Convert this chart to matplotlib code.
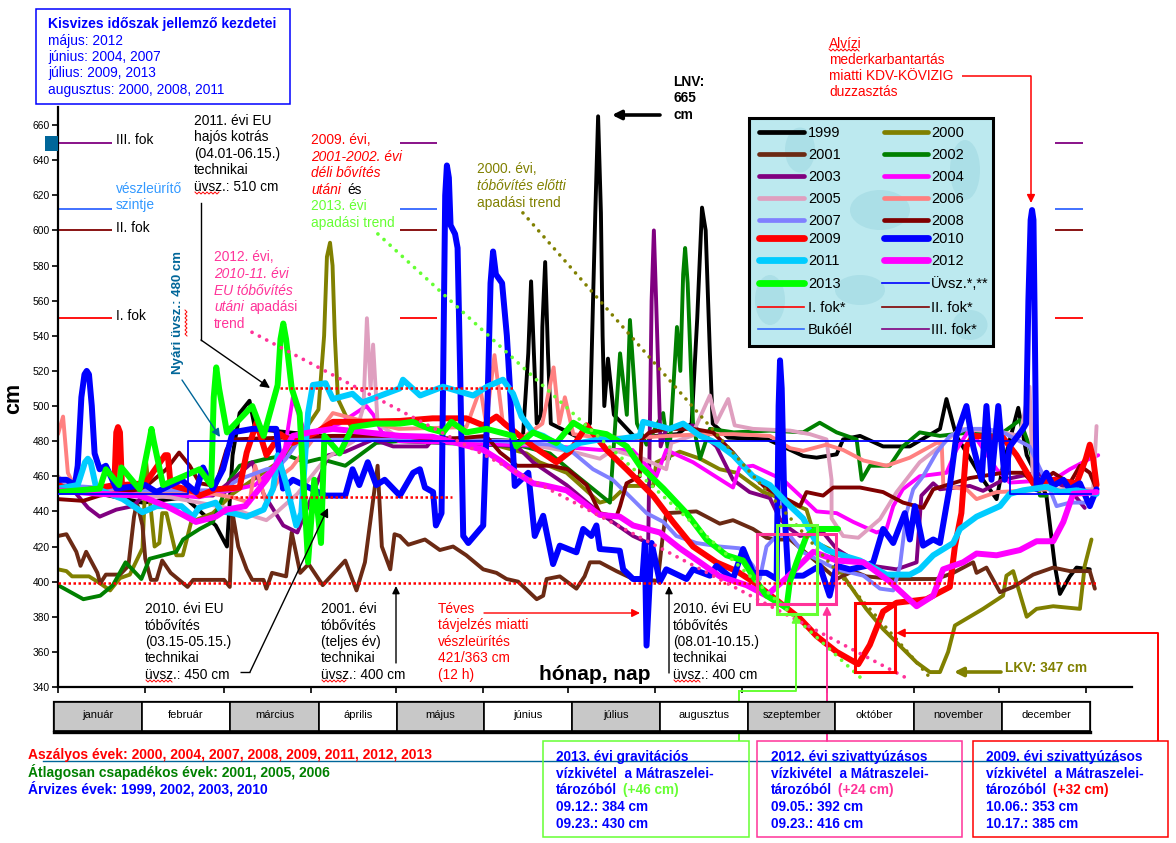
import matplotlib
matplotlib.use("Agg")
import matplotlib.pyplot as plt
from matplotlib.patches import Rectangle, Ellipse

plt.rcParams['font.family'] = ['Liberation Sans', 'DejaVu Sans']

# (day of year, water level cm)
s1999 = [(0,455),(30,445),(45,448),(56,432),(60,420),(62,472),(64.5,496),(68,503),(70,487),(100,482),(130,482),(165,480),(167,530),(168,571),(169,530),(170,490),(171.5,495),(172,545),(173,582),(174,530),(175,490),(185,482),(188.9,490),(190,560),(190.8,610),(191.8,665),(192.8,610),(193.4,540),(194,500),(195.3,527),(197.4,495),(205,482),(220,484),(225,490),(227,550),(228.7,613),(230,600),(231.5,530),(232.5,490),(238,482),(252,481),(264.6,471.6),(269.4,470.6),(276.5,472.5),(278.8,481),(284.8,483),(293,477),(302.5,477),(313.2,487),(315.5,504),(319,483),(328.5,458),(333.3,447),(335.6,466),(341,499),(344,472),(351,449),(354,409),(355.8,393),(359.3,403),(361.7,408),(366.4,407)]
s2000 = [(0,407),(3,406),(5,403),(11,403),(15,399),(18.5,395),(22,402),(25.5,404),(30,419),(31.3,468),(34.3,420),(36,422),(37,439),(38.5,439),(42,415),(44.3,415),(47.3,434),(55,439),(62,450),(80,470),(85,480),(92.5,498),(94.5,540),(95.5,585),(96.6,593),(97.5,580),(98.3,540),(99.4,504),(105,485),(150,480),(166.4,473),(171,468),(180.6,462),(192.4,445),(197,447),(201.9,454.5),(211.3,454.5),(212.5,468),(220.8,474),(228,470),(235,464),(241,462),(250.4,451),(254,449),(265.8,441),(269.4,422),(274,418.6),(278.8,403.4),(287,384.5),(293,373),(304.9,354),(309.6,348.5),(313.2,348.5),(316.1,360),(318.5,375),(328.5,384.5),(335.6,392),(336.8,403.4),(339.2,406),(344,380),(347.5,384.5),(353.4,386),(362.9,384.5),(364.6,409),(367,424)]
s2001 = [(0,426),(3,427),(6.5,417),(8,409),(10,417),(14,405),(15,399),(17,404),(22,404),(25,409),(27,437),(28,445),(30,432),(31,413),(33,401),(35,401),(37,412),(40,405),(46,397),(48,401),(55,401),(59,401),(61,397),(62,439),(64,420),(67,407),(69,401),(73,401),(74,396),(76,405),(81,403),(83,428),(86,405),(89,410),(94,398),(102,412),(106,395),(109,411),(113.5,466),(115,420),(118,407),(119.5,427),(121.4,426),(124.4,421),(130.3,424),(135.6,418),(140.3,420),(145,415),(151,407),(155.7,405),(159.3,401.5),(163.4,400),(170,390),(172.3,392),(173.5,401.5),(178.2,403),(184.1,396),(187,403),(188.9,411),(192.4,411),(198.3,406),(204.2,401.5),(213,400.5),(214.9,428),(216,439),(226.7,440),(235,433),(239.7,435),(246.8,430),(251.6,425),(255,424),(260,424),(276.5,401.5),(282.4,406),(287,403),(296.6,401.5),(312,401.5),(317.9,405),(325,411),(326.2,405),(329.7,408),(334.5,394),(339.2,397),(346.3,404),(353.4,408),(359.3,406),(366.4,406),(368.2,396)]
s2002 = [(0,398),(9,390),(15,392),(19.5,398),(24,411),(29.6,401.5),(32.5,413),(37.3,415),(42,417),(44.4,424),(50.3,430),(55,434),(60.9,458),(64.5,466),(69,468),(74,470),(81.2,472),(88,468),(93,470),(102,466),(113,479),(121,480),(151,478),(165.2,477),(174.7,473),(182.9,462),(196,445),(199.6,530),(202,495),(203.1,549),(205.6,490),(209,478),(214.9,496),(217,470),(219.8,545),(221,520),(222,575),(222.7,590),(223.6,570),(225.5,490),(228,470),(231.5,487),(240,485),(252.8,486),(264.6,485),(270.5,490.5),(276.5,485),(283.6,481),(285.4,458),(288.3,466),(295.4,466),(300,477),(306,485),(313.2,483),(323.8,485),(335.6,485),(341.6,492),(345,477),(348.7,449),(351,449)]
s2003 = [(0,458),(6.5,450),(10.7,442),(14.8,437),(20.7,441),(26.6,443),(31,450),(55,449),(62,458),(69,468),(73,450),(80,432),(85,428),(96,472),(102,474),(112,481),(119,477),(131,477),(133,481),(163,477),(168.7,468),(180.6,455),(192.4,439),(204.2,426),(209.6,422),(210.8,560),(211.6,600),(212.4,560),(214,477),(216,487),(225.5,489),(233.8,477),(239.7,458),(245.6,451),(252.8,447.6),(256.4,435.6),(260,430),(263.5,426),(271.7,428),(276.5,418.6),(285,410),(297.8,407),(304.9,411),(306.6,449),(310.8,456),(313.2,452.6),(323.8,454.5),(328.5,451.7),(335.6,458),(347.5,462),(359.3,452.6),(364.6,442)]
s2004 = [(0,455),(50,448),(70,455),(80,470),(83.4,505),(88,483),(100,490),(109.5,500),(112,495),(115,485),(121,480),(177,477),(192.4,475),(204,475),(212.5,460),(216,475),(225.5,468),(239.7,453.6),(242,465),(246.8,466),(257.5,458),(263.5,449),(269.4,440),(276.5,439),(282.4,434),(290.7,428),(294.2,430),(296.6,443),(300,452.6),(306,460),(315.5,462),(319,475),(323.8,487),(333.3,464),(338,456.4),(353.4,458),(359.3,464),(366.4,470),(369.4,472)]
s2005 = [(0,460),(5,452),(40,448),(60,442),(65,440),(70,437),(74,435),(78,440),(85,450),(95,470),(105,480),(108.5,500),(109.7,550),(111,510),(111.9,535),(113.5,490),(121,482),(160,480),(184,473.5),(192.4,470),(197,475),(207.8,470),(216,464),(217.8,479),(225,483),(231.5,506),(233.8,490.5),(238,504),(240.3,489),(246.8,487),(260,486),(267,484),(272.9,481),(274.7,458),(274.7,436),(278.8,426),(284.2,425),(291.9,435.6),(297.8,451),(306,468),(313.2,477),(320.3,487),(335.6,485),(341.6,483),(345,511),(346.3,452.6),(367.6,452.6),(368.8,488.6)]
s2006 = [(0,484),(1.8,494),(3.5,462),(6.5,452),(55,450),(62,448),(68,445),(70,466),(74,445),(79,460),(83,465),(97.6,496),(107,492),(121,487),(145,488),(150,510),(152,490),(155,529),(158,490),(165,482),(172,490),(176,522),(178,490),(180,505),(183,484),(192,482),(205,482),(229,484),(240,484),(252.8,483),(260,476),(264.6,474.5),(272.9,478),(278.8,475),(286,469),(294.2,466),(302.5,470.6),(312,479),(313.8,479),(314.4,454.5),(322.6,452.6),(326.2,447),(333.3,451),(342.7,451.7),(351,452.6)]
s2007 = [(0,455),(30,452),(60,452),(62,456),(64,458),(74,464),(78,465),(81,470),(85.8,481),(120,482),(157,480),(174.7,478),(182.9,473.5),(190,464),(197,458),(204,447),(209,439),(215,434),(219.6,426),(226.7,422),(235,420),(242,419),(246.8,409),(249.2,401.5),(251.6,420),(255.1,426),(260,426),(264.6,416.7),(276.5,407),(286,403.4),(291.9,396),(296.6,395),(299,409),(301.3,439),(303.7,452.6),(307.2,460),(312,473.5),(316.7,483),(322.6,487),(329.7,487),(335.6,485),(345,477),(352.2,452.6),(354.6,443),(359.3,445),(366.4,445)]
s2008 = [(0,447),(8.9,446),(14.8,449),(29,452.6),(32.5,456),(38.5,464),(43,473.5),(46.8,466),(50.3,456),(56,454.5),(59.8,475),(62,481),(97.6,483),(121.4,483),(133,481),(145,482),(152,483),(157,473.5),(163,466),(175,466),(181,464),(187.7,455),(192.4,439),(198.3,437),(199.6,443),(201.9,456),(206.6,460),(207.2,481),(210,485),(216,487),(225.5,487),(232.6,485),(239.7,473.5),(244.5,464),(251.6,453),(258.7,447),(263.5,443),(265.8,451),(271.7,449),(275.3,453.6),(284.8,453.6),(293,451),(300.1,445),(307.2,442),(310.8,452.6),(323.8,459),(335.6,462),(342.7,462),(347.5,454.5),(353.4,462),(359.3,456),(362.9,466),(366.4,462),(368.8,452.6)]
s2009 = [(0,455),(6.5,451),(20,455),(20.7,485),(21.3,488),(22,485),(22.7,455),(31,456),(38,472),(39,472),(40,455),(49,451),(50.3,449),(56,452.6),(64.5,453.6),(67,473.5),(70.5,490.5),(74,472),(79,484),(83.4,479),(91.7,485),(97.6,491),(104.6,491),(121.4,491.5),(133,493),(145,493),(151,489),(155.7,494),(159.3,489),(168.7,477),(177,468),(181.8,474),(187.7,489),(194.8,475),(201.9,464),(211.3,449),(218.4,434),(225.5,420),(233.8,411),(241,406),(246.8,400),(251.6,394),(263.5,379),(269.4,369),(276.5,360),(284.2,353),(288.3,364),(293,383),(297.8,388),(308.4,390),(316.7,397),(318.5,420),(320.8,439),(322.6,477),(325,483),(335.6,482),(340.4,472),(346.3,456),(353.4,458),(361.7,456),(365,470),(366.4,478),(367.6,470),(368.8,455)]
s2010 = [(0,458),(3,458),(6,455),(7,466),(8.3,505),(9.4,518),(10.2,520),(11,518),(12,500),(13,473),(14.8,464),(17,466),(20.7,453),(31,455),(35,451),(43.8,458),(49,451),(51.5,465),(55,453),(58.6,464),(62,485),(69,487),(77.5,487),(79.9,453),(83.4,458),(95,449),(102,449),(104.6,464),(107,455),(110,468),(113,455),(116,458),(121.4,449),(126.1,462),(128.5,464),(130.3,453.6),(133.2,451),(134.2,432),(136.2,439),(136.8,520),(137.5,620),(138.1,637),(138.8,630),(139.4,603),(141,598),(141.9,590),(142.8,520),(143.9,426),(145.7,422),(151,432),(152.5,500),(153.6,570),(154.5,588),(155.5,575),(157.7,570),(159.4,540),(160.5,510),(162.2,454.5),(167,462),(169.3,426),(172.3,437.5),(175.8,410),(178.2,420.5),(184.1,416.7),(186.5,430),(189.4,426),(191.2,432),(192.4,418.6),(199.5,417.6),(200.7,407),(204.2,401.5),(207.5,401.5),(208.4,422),(209,363.6),(210.8,422),(213.7,400),(216,407),(223.2,401.5),(225.5,407),(231.5,403.4),(233.8,409),(239.7,401.5),(243.3,418.6),(246.8,405),(251.6,405),(255.2,401.5),(255.9,500),(256.4,526),(257,510),(258,440),(259.3,403.4),(264.6,403.4),(270.5,409),(274,392),(276.5,409),(281.2,407),(287.1,409),(289.5,411),(293,430),(296.6,422),(300.7,439),(302.5,424),(304.3,443),(307.2,420.5),(310.8,424),(313.2,422),(316.7,454.5),(319,483),(322.6,500),(325,477),(328,458),(329.7,500),(331.5,458),(333.9,500),(336.2,458),(338,477),(342.7,487),(343.8,490),(344.6,560),(345.4,606),(345.9,611.6),(346.4,606),(346.9,540),(347.5,452.6),(351,462),(353.4,454.5),(357,458),(359.3,452.6),(362.9,456),(366.4,443),(368.8,452.6)]
s2011 = [(0,453),(7,455),(9.6,468),(10.6,470),(11.6,468),(13.6,453),(23,447),(30,439.5),(35,443),(43.8,443),(48,437),(50,442),(56,445),(58,440),(62,439),(67,437),(73,441),(76.4,453),(78,472),(81,456),(84.6,432),(86.4,439),(88.8,496),(90.5,512),(95,513),(97.6,504),(104.6,507),(108,502),(121.3,510),(122.5,515),(128.6,506),(136.7,511),(147.4,506),(152.3,511),(158,515),(161.6,507),(164.6,494),(168.7,485),(172.3,483),(180.6,475),(185.3,479),(192.4,481),(198.3,481),(206.6,483),(207.8,491),(212.5,489),(217.2,487),(222,490),(228,483),(233.8,479),(239.7,472),(246.8,460),(252.8,455),(258.7,445),(264.6,436),(269.4,422),(273,418),(276.5,416),(284.8,412),(290.7,407),(294.2,404),(302.5,404),(306,407),(310.8,415),(317.9,422),(320.3,430),(326.2,437),(334.5,443),(338,450),(342.7,452),(351,454),(355.8,451),(361.7,452),(368.8,450)]
s2012 = [(0,452),(14.8,450),(29,449),(38.5,443),(45.6,437),(49,434),(56,437),(59.8,441),(66.5,443),(74,458),(80,473),(83.4,483),(89.4,485),(97.6,487),(121.4,483),(133,482.5),(141.5,479),(151,475),(157,469),(162.8,462),(168.7,456),(172.3,455),(180.6,452),(192.4,438),(199.5,437),(204.2,432),(213.7,428),(220.8,419),(228,411),(235,403),(244.5,398),(251.6,392),(259.3,403),(268.2,417),(276.5,412),(286,411),(295.4,400),(304.9,386),(310.8,392),(314.3,407),(321.4,411),(326.2,416),(333.3,415),(341.6,418),(347.5,423),(353.4,423),(357,434),(360.5,450),(368.8,451)]
s2013 = [(0,451),(14.8,453),(17,464),(21.7,455),(22.5,465),(29,452.6),(32.4,480),(33.2,487),(34,480),(37.3,455),(50.3,464),(54.4,455),(55.3,505),(56.2,522),(57.2,510),(60,485),(69,500),(73,483),(78,512),(79,538),(80,547),(81,538),(83,510),(85.8,496),(88.8,411),(91,458),(93.4,422),(94.6,483),(100,473),(104.6,488),(113,490),(121.4,490),(126,491),(132,487),(136.8,485),(139.7,491),(145,485),(152.2,487),(161.6,483),(162.8,477),(168.7,485),(177,479),(183,490.5),(187.7,486),(194.8,484),(202,477),(206.6,466),(215,453),(223.2,439),(230.3,424),(237.4,415),(243.3,412),(246.8,403),(251.6,392),(258.7,385),(259.9,400),(262.3,411),(265.8,426),(269.4,430),(277,430)]

uvsz_days = [0, 46, 46, 338, 338, 367]
uvsz_cm = [450, 450, 480, 480, 450, 450]

months = ['január', 'február', 'március', 'április', 'május', 'június', 'július',
          'augusztus', 'szeptember', 'október', 'november', 'december']
month_start = [0, 31, 59, 90, 120, 151, 181, 212, 243, 273, 304, 334, 365]
cell_edges = [54, 142, 230, 319, 397, 484, 572, 660, 748, 835, 914, 1002, 1090]

series = [(s1999, 'black', 2.8), (s2000, '#808000', 2.8), (s2001, '#6B2A14', 2.8),
          (s2002, '#008000', 2.8), (s2003, '#800080', 2.8), (s2004, '#FF00FF', 2.8),
          (s2005, '#DF9FBF', 2.8), (s2006, '#FF8080', 2.8), (s2007, '#8080FF', 2.8),
          (s2008, '#800000', 2.8), (s2009, '#FF0000', 4.3), (s2010, '#0000FF', 4.3),
          (s2011, '#00CCFF', 4.3), (s2012, '#FF00FF', 4.3), (s2013, '#00FF00', 4.3)]
legend_left = ['1999', '2001', '2003', '2005', '2007', '2009', '2011', '2013']
legend_right = ['2000', '2002', '2004', '2006', '2008', '2010', '2012']

W, H = 1176, 843
fig = plt.figure(figsize=(W / 100, H / 100), dpi=100, facecolor='white')
ax = fig.add_axes([58 / W, (H - 687) / H, (1132 - 58) / W, (687 - 107) / H])
ax.set_xlim(0, (1132 - 58) / 2.816)
ax.set_ylim(340, 340 + (687 - 107) / 1.756)
for side in ['top', 'right']:
    ax.spines[side].set_visible(False)
for side in ['left', 'bottom']:
    ax.spines[side].set_linewidth(1.6)
ax.set_xticks(month_start)
ax.set_xticklabels([])
ax.set_yticks(range(340, 661, 20))
ax.tick_params(axis='x', length=4, width=1.2)
ax.tick_params(axis='y', length=4, width=1.2, labelsize=7.4, pad=2)
ax.patch.set_alpha(0)

for s, c, lw in series:
    d, v = zip(*s)
    ax.plot(d, v, color=c, lw=lw, solid_joinstyle='round', solid_capstyle='round')

ax.plot(uvsz_days, uvsz_cm, color='#0000FF', lw=1.3, zorder=5)

# level stubs
for cm, c in [(650, '#800080'), (612, '#3366FF'), (600, '#800000'), (550, '#FF0000')]:
    for a, b in [(0, 19), (121.4, 134.6), (354, 364)]:
        ax.plot([a, b], [cm, cm], color=c, lw=1.3, solid_capstyle='butt')

# dotted levels and trends
red_dots = (0, (1, 1))
ax.plot([79, 162], [510, 510], color='#FF0000', lw=1.8, ls=red_dots, zorder=6)
ax.plot([61, 140], [448, 448], color='#FF0000', lw=1.8, ls=red_dots, zorder=6)
ax.plot([0, 369], [399, 399], color='#FF0000', lw=1.8, ls=red_dots, zorder=6)
round_dots = (0, (0.01, 2.2))
ax.plot([68.9, 302.6], [542, 344], color='#FF3399', lw=2.7, ls=round_dots, dash_capstyle='round', zorder=6)
ax.plot([113.6, 285.9], [598, 344], color='#66FF33', lw=2.7, ls=round_dots, dash_capstyle='round', zorder=6)
ax.plot([165.1, 310.4], [610, 344], color='#808000', lw=2.6, ls=(0, (0.01, 2.2)), dash_capstyle='round', zorder=6)

# overlay in pixel coordinates for the notes
ov = fig.add_axes([0, 0, 1, 1], zorder=10)
ov.set_xlim(0, W)
ov.set_ylim(H, 0)
ov.axis('off')
ov.patch.set_alpha(0)


def txt(x, y, s, color='black', size=9.9, **kw):
    ov.text(x, y, s, color=color, fontsize=size, va='center', ha=kw.pop('ha', 'left'), **kw)


def block(x, y0, lines, color='black', step=16.5, **kw):
    for i, s in enumerate(lines):
        txt(x, y0 + i * step, s, color, **kw)


def box(x0, y0, x1, y1, color, lw=1.0, fc='none', z=3):
    ov.add_patch(Rectangle((x0, y0), x1 - x0, y1 - y0, fill=fc != 'none', fc=fc, ec=color, lw=lw, zorder=z))


def arrow(pts, color, lw=1.0, head=9):
    xs, ys = zip(*pts)
    if len(pts) > 2:
        ov.plot(xs[:-1], ys[:-1], color=color, lw=lw, solid_capstyle='butt', solid_joinstyle='miter')
    ov.annotate('', xy=pts[-1], xytext=pts[-2],
                arrowprops=dict(arrowstyle='-|>', color=color, lw=lw, mutation_scale=head, shrinkA=0, shrinkB=0))


def squiggle(x0, x1, y):
    xs, ys, x, up = [], [], x0, True
    while x <= x1:
        xs.append(x)
        ys.append(y - 1 if up else y + 1)
        x += 2
        up = not up
    ov.plot(xs, ys, color='#FF0000', lw=0.7)


# top-left box
box(35.5, 8.5, 289.5, 104, '#0000FF', lw=1.1)
txt(48, 24, 'Kisvizes időszak jellemző kezdetei', '#0000FF', size=10.05, weight='bold')
block(48, 40.5, ['május: 2012', 'június: 2004, 2007', 'július: 2009, 2013', 'augusztus: 2000, 2008, 2011'], '#0000FF')

# level names
teal = '#006699'
ov.add_patch(Rectangle((45, 136), 12.5, 15, color=teal, lw=0))
txt(116, 140, 'III. fok')
block(116, 189, ['vészleürítő', 'szintje'], '#3399FF')
txt(116, 228, 'II. fok')
txt(116, 316, 'I. fok')
txt(14, 398, 'cm', size=15.5, weight='bold', rotation=90, ha='center')

# notes
block(194, 121, ['2011. évi EU', 'hajós kotrás', '(04.01-06.15.)', 'technikai', 'üvsz.: 510 cm'])
squiggle(195, 220, 193)
ov.plot([201, 201], [203, 340], color='black', lw=1)
arrow([(201, 340), (270, 388)], 'black', lw=1, head=14)

txt(311, 140, '2009. évi,', '#FF0000')
txt(311, 157, '2001-2002. évi', '#FF0000', style='italic')
txt(311, 173, 'déli bővítés', '#FF0000', style='italic')
txt(311, 190, 'utáni', '#FF0000', style='italic')
txt(347, 190, 'és')
block(311, 206, ['2013. évi', 'apadási trend'], '#66FF33')

pink = '#FF3399'
txt(214, 257, '2012. évi,', pink)
block(214, 274, ['2010-11. évi', 'EU tóbővítés'], pink, style='italic', step=17)
txt(214, 307, 'utáni', pink, style='italic')
txt(249, 307, 'apadási', pink)
txt(214, 324, 'trend', pink)

txt(178, 312, 'Nyári üvsz.: 480 cm', teal, size=9.5, weight='bold', rotation=90, ha='center')
squiggle_x = [185, 187, 185, 187, 185, 187, 185, 187, 185, 187, 185, 187, 185, 187]
ov.plot(squiggle_x, [310 + 2 * i for i in range(14)], color='#FF0000', lw=0.7)
arrow([(182, 380), (220, 437)], teal, lw=1, head=12)

txt(477, 169, '2000. évi,', '#808000')
txt(477, 186, 'tóbővítés előtti', '#808000', style='italic')
txt(477, 203, 'apadási trend', '#808000')

block(673, 82, ['LNV:', '665', 'cm'], weight='bold', step=16.5)
arrow([(660, 115), (612, 115)], 'black', lw=2.6, head=13)

block(829, 44, ['Alvízi', 'mederkarbantartás', 'miatti KDV-KÖVIZIG', 'duzzasztás'], '#FF0000', step=16)
squiggle(829, 860, 50)
arrow([(962, 76), (1031, 76), (1031, 203)], '#FF0000', lw=1.1, head=12)

block(145, 609, ['2010. évi EU', 'tóbővítés', '(03.15-05.15.)', 'technikai', 'üvsz.: 450 cm'])
squiggle(146, 172, 681)
arrow([(240, 672), (250, 672), (328, 508)], 'black', lw=1, head=13)
block(321, 609, ['2001. évi', 'tóbővítés', '(teljes év)', 'technikai', 'üvsz.: 400 cm'])
squiggle(322, 347, 681)
arrow([(396, 663), (396, 586)], 'black', lw=1, head=11)
block(438, 609, ['Téves', 'távjelzés miatti', 'vészleürítés', '421/363 cm', '(12 h)'], '#FF0000')
arrow([(484, 613), (640, 613)], '#FF0000', lw=1, head=12)
block(673, 609, ['2010. évi EU', 'tóbővítés', '(08.01-10.15.)', 'technikai', 'üvsz.: 400 cm'])
squiggle(674, 700, 681)
arrow([(669, 673), (669, 586)], 'black', lw=1, head=11)
txt(595, 675, 'hónap, nap', size=15, weight='bold', ha='center')

txt(1005, 668, 'LKV: 347 cm', '#808000', weight='bold')
arrow([(1001, 672), (954, 672)], '#808000', lw=2.6, head=13)

# marker boxes and their leaders
box(757, 534, 836, 604, pink, lw=2.2)
box(777, 525, 817, 614, '#66FF33', lw=2.2)
box(855, 603, 895, 672, '#FF0000', lw=2.2)
arrow([(739, 741), (739, 691), (796, 691), (796, 614)], '#66FF33', lw=1.4, head=12)
arrow([(827, 741), (827, 606)], pink, lw=1.4, head=12)
arrow([(1158, 741), (1158, 633), (896, 633)], '#FF0000', lw=1.4, head=12)

# legend
box(749, 118, 993, 346, 'black', lw=2.2, fc='#BCE9EF', z=3)
for ex, ey, ew, eh in [(800, 150, 30, 45), (880, 210, 60, 40), (965, 170, 30, 60), (860, 290, 50, 30), (970, 325, 35, 30), (770, 300, 30, 50)]:
    ov.add_patch(Ellipse((ex, ey), ew, eh, color='#ABDFE7', lw=0, zorder=3.1))
rows = [132, 154, 176, 198, 220, 238, 260, 283]
left_y = dict(zip(legend_left, rows))
right_y = dict(zip(legend_right, [132, 154, 176, 198, 220, 238, 260]))
colors = {str(1999 + i): (series[i][1], series[i][2]) for i in range(15)}
for name, y in left_y.items():
    ov.plot([759, 804], [y, y], color=colors[name][0], lw=colors[name][1] + 0.6, solid_capstyle='round', zorder=4)
    txt(808, y + 1, name, size=10.5, zorder=4)
for name, y in right_y.items():
    ov.plot([884, 928], [y, y], color=colors[name][0], lw=colors[name][1] + 0.6, solid_capstyle='round', zorder=4)
    txt(931, y + 1, name, size=10.5, zorder=4)
extra = [(758, 804, 307, '#FF0000', 'I. fok*', 808), (758, 804, 329, '#3366FF', 'Bukóél', 808),
         (882, 929, 283, '#0000FF', 'Üvsz.*,**', 931), (882, 929, 307, '#800000', 'II. fok*', 931),
         (882, 929, 329, '#800080', 'III. fok*', 931)]
for x0, x1, y, c, name, tx in extra:
    ov.plot([x0, x1], [y, y], color=c, lw=1.2, zorder=4)
    txt(tx, y + 1, name, size=10.5, zorder=4)

# month strip
box(54, 702, 1090, 731, 'black', lw=1.6, fc='white', z=3)
for i, name in enumerate(months):
    a, b = cell_edges[i], cell_edges[i + 1]
    box(a, 702, b, 731, 'black', lw=1.2, fc='#C8C8C8' if i % 2 == 0 else 'white', z=3.1)
    txt((a + b) / 2, 715, name, size=8, ha='center', zorder=4)
ov.plot([54, 1090], [731.5, 731.5], color='black', lw=2.4, zorder=4)

# bottom notes
ov.plot([43, 1118], [761, 761], color=teal, lw=1, zorder=2)
txt(28, 755, 'Aszályos évek: 2000, 2004, 2007, 2008, 2009, 2011, 2012, 2013', '#FF0000', size=10, weight='bold')
txt(28, 772, 'Átlagosan csapadékos évek: 2001, 2005, 2006', '#008000', size=10, weight='bold')
txt(28, 789, 'Árvizes évek: 1999, 2002, 2003, 2010', '#0000FF', size=10, weight='bold')

notes = [
    (543, 749, '#66FF33', 556, ['2013. évi gravitációs', 'vízkivétel  a Mátraszelei-', 'tározóból'], '(+46 cm)', ['09.12.: 384 cm', '09.23.: 430 cm']),
    (757, 962, pink, 771, ['2012. évi szivattyúzásos', 'vízkivétel  a Mátraszelei-', 'tározóból'], '(+24 cm)', ['09.05.: 392 cm', '09.23.: 416 cm']),
    (973, 1168, '#FF0000', 986, ['2009. évi szivattyúzásos', 'vízkivétel  a Mátraszelei-', 'tározóból'], '(+32 cm)', ['10.06.: 353 cm', '10.17.: 385 cm']),
]
for x0, x1, c, tx, head_lines, gain, tail in notes:
    box(x0, 741, x1, 837, c, lw=1.1)
    block(tx, 757, head_lines, '#0000FF', step=16.5, size=9.8, weight='bold')
    txt(tx + 67, 790, gain, c, size=9.8, weight='bold')
    block(tx, 807, tail, '#0000FF', step=16.5, size=9.8, weight='bold')

fig.savefig('out.png', dpi=100)
